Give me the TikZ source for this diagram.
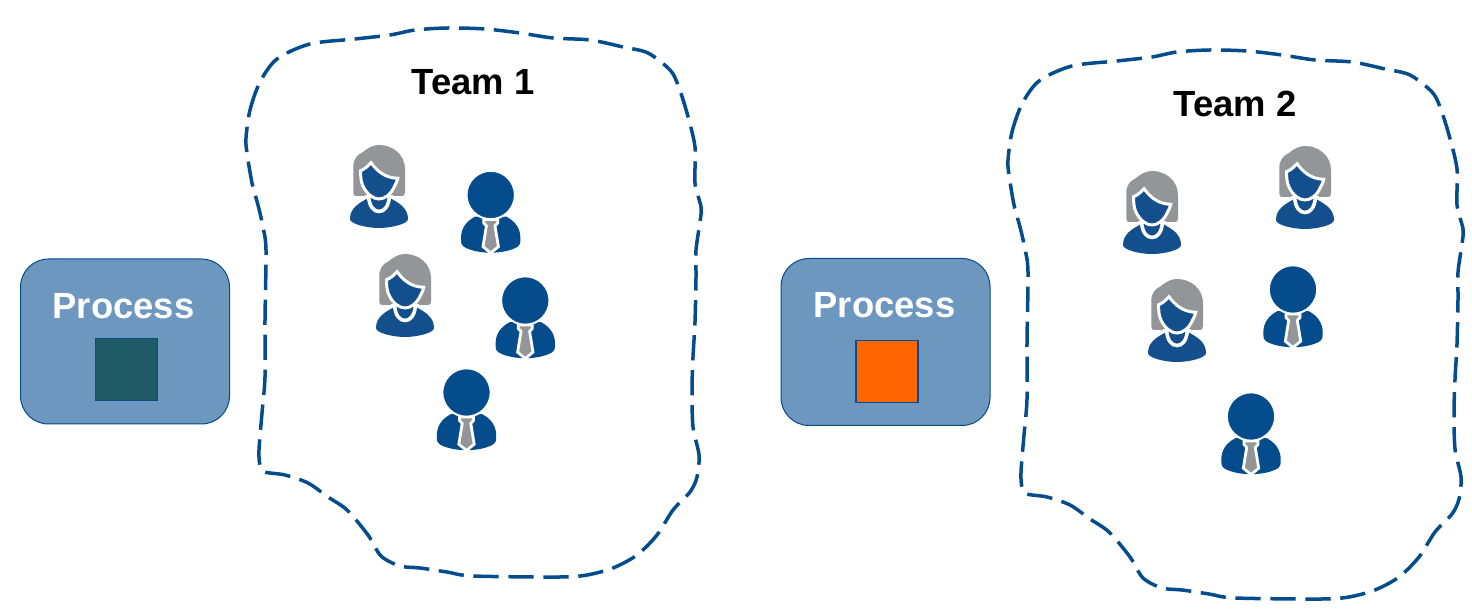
\documentclass[tikz,border=0pt]{standalone}
\usepackage{fontspec}
\setmainfont{Liberation Sans}
\definecolor{teamblue}{HTML}{044C8C}
\definecolor{herblue}{HTML}{124F8C}
\definecolor{boxblue}{HTML}{6D97BF}
\definecolor{hairgray}{HTML}{939598}
\definecolor{squaregreen}{HTML}{1F5B66}
\definecolor{squareorange}{HTML}{FF6600}
\tikzset{
  teamline/.style={draw=teamblue, line width=1.75pt, dash pattern=on 12.7pt off 4.8pt},
  processbox/.style={draw=teamblue, line width=0.5pt, fill=boxblue, rounded corners=14pt, minimum width=104.5pt, inner sep=0pt},
  processsquare/.style={draw=teamblue, line width=0.6pt, minimum size=31pt, inner sep=0pt},
  processlabel/.style={anchor=base, text=white, font=\fontsize{18.2}{20}\selectfont\bfseries, inner sep=0pt},
  teamlabel/.style={anchor=base, text=black, font=\fontsize{18.2}{20}\selectfont\bfseries, inner sep=0pt},
  man/.pic={
    \fill[teamblue] (-15.7,21.7) .. controls (-24,26) and (-29.7,33) .. (-29.7,43)
       .. controls (-29.7,49) and (-29,50.5) .. (-27,51.7) .. controls (-20,56) and (-9,57.7) .. (0,57.7)
       .. controls (9,57.7) and (20,56) .. (27,51.7) .. controls (29,50.5) and (29.7,49) .. (29.7,43)
       .. controls (29.7,33) and (24,26) .. (15.7,21.7) -- cycle;
    \filldraw[fill=hairgray, draw=white, line width=1.4pt] (-7,24.5) -- (7,24.5) -- (7,28) -- (4.3,31) -- (7.7,51.7) -- (0,58) -- (-7.7,51.7) -- (-4.3,31) -- (-7,28) -- cycle;
    \filldraw[fill=teamblue, draw=white, line width=1pt] (0,0) circle (24.2);
  },
  woman/.pic={
    \fill[hairgray] (-23,51) .. controls (-25,51) and (-25.7,50) .. (-25.7,47) -- (-25.7,22)
       .. controls (-25.7,14) and (-22,10) .. (-16,7) .. controls (-10,2) and (-5,0) .. (0,0)
       .. controls (14,0) and (26,10) .. (26,24) -- (26,47) .. controls (26,50) and (25,51) .. (23,51) -- cycle;
    \fill[white] (-14,50) rectangle (14,56);
    \fill[herblue] (-10.7,53) .. controls (-20,58) and (-29,63) .. (-29,74) .. controls (-29,79) and (-12,83) .. (0,83)
       .. controls (12,83) and (29,79) .. (29,74) .. controls (29,63) and (20,58) .. (11,53) -- cycle;
    \draw[white, line width=1.8pt] (-10.5,50) .. controls (-10,62) and (-5,66.5) .. (0,66.5) .. controls (5,66.5) and (10,62) .. (10.5,50);
    \filldraw[fill=herblue, draw=white, line width=1.5pt] (-8,17.7) .. controls (-11,21) and (-14,24) .. (-18.3,25.7)
       .. controls (-18.5,33) and (-18,37) .. (-15.7,41.7) .. controls (-12,49) and (-6,54) .. (0,54)
       .. controls (6,54) and (12,49) .. (15.3,41.7) .. controls (17,38) and (18.5,36) .. (18.7,33.3)
       .. controls (6,33) and (-2,26) .. (-8,17.7) -- cycle;
  },
  teamoutline/.pic={
    \draw[teamline] plot[smooth cycle, tension=0.5] coordinates {(246,138) (250,110) (260,82) (277,59) (310,44)
      (355,39) (390,35) (415,30) (448,28) (485,29) (520,33) (553,38) (590,40) (623,47) (648,53) (670,70)
      (678,85) (687,113) (695,147) (695,183) (701,207) (700,222) (696,250) (696,277) (695,322) (693,357) (692,390)
      (693,427) (699,455) (697,477) (690,492) (673,510) (657,535) (637,555) (613,568) (587,575) (560,577)
      (473,576) (447,572) (420,568) (400,566) (381,556) (368,535) (347,510) (328,497) (308,483)
      (285,475) (265,472) (260,465) (259,450) (262,413) (265,377) (265,320) (266,250) (263,227) (258,205)
      (252,183) (247,153)};
  },
}
\begin{document}
\begin{tikzpicture}[x=0.5pt, y=-0.5pt]
  \useasboundingbox (0,0) rectangle (1472,613);

  \pic (outline1) at (0,0) {teamoutline};
  \pic (outline2) at (762,22) {teamoutline};

  \node[teamlabel] (team1) at (473,95) {Team 1};
  \node[teamlabel] (team2) at (1235,117) {Team 2};

  \node[processbox, minimum height=82.5pt] (process1) at (125,341.5) {};
  \node[processlabel] (label1) at (123.5,319) {Process};
  \node[processsquare, fill=squaregreen] (square1) at (126.5,369.5) {};

  \node[processbox, minimum height=83.5pt] (process2) at (885.5,342) {};
  \node[processlabel] (label2) at (884.5,318) {Process};
  \node[processsquare, fill=squareorange] (square2) at (887,371.5) {};

  \pic (woman1) at (379,145) {woman};
  \pic (woman2) at (405,254) {woman};
  \pic (man1) at (490.7,195) {man};
  \pic (man2) at (525.3,300.5) {man};
  \pic (man3) at (466.5,392.5) {man};

  \pic (woman3) at (1152,171) {woman};
  \pic (woman4) at (1305,146) {woman};
  \pic (woman5) at (1177,279) {woman};
  \pic (man4) at (1293,289.5) {man};
  \pic (man5) at (1251,416.5) {man};
\end{tikzpicture}
\end{document}
